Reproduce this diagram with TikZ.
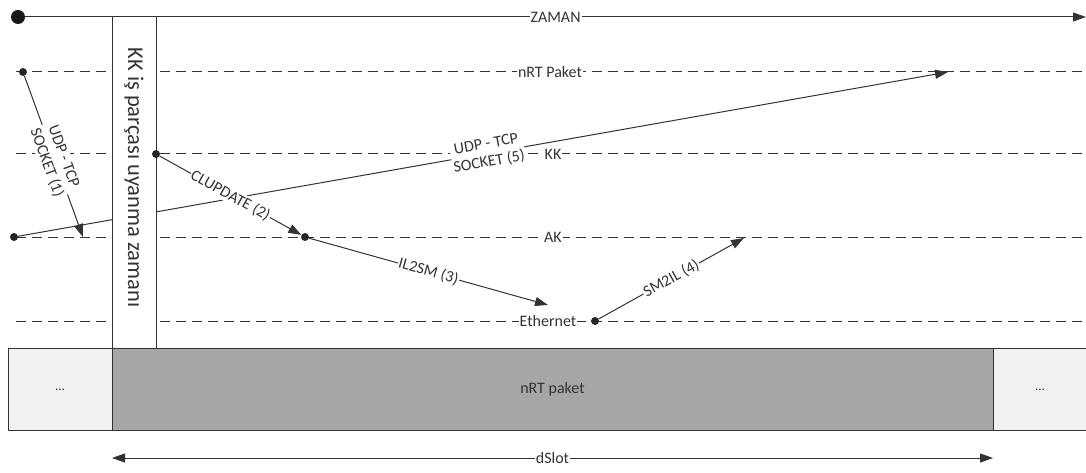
\documentclass[tikz,border=0pt]{standalone}
\usepackage{fontspec}
\setmainfont{Carlito}
\usetikzlibrary{arrows.meta}
\definecolor{ln}{HTML}{333333}
\definecolor{lightbox}{HTML}{F1F1F1}
\definecolor{darkbox}{HTML}{A6A6A6}
\tikzset{
  dline/.style={draw=ln, line width=1pt, dash pattern=on 10pt off 6pt},
  lab/.style={fill=white, inner sep=1pt, text=ln, font=\fontsize{16}{18}\selectfont},
  slab/.style={fill=white, inner sep=1pt, text=ln, font=\fontsize{16}{18}\selectfont, sloped, align=center},
  dot/.style={circle, fill=black!85, inner sep=0pt, minimum size=8pt},
  bigdot/.style={circle, fill=black!90, inner sep=0pt, minimum size=14pt},
  arr/.style={draw=ln, line width=1pt, -{Triangle[length=13pt,width=9pt]}},
  tl/.style={draw=ln, line width=1pt}
}
\begin{document}
\begin{tikzpicture}[x=1pt,y=-1pt]
\useasboundingbox (0,0) rectangle (1086,473);
% time axis
\node[bigdot] (z0) at (18,17) {};
\coordinate (z1) at (1086,17);
\draw[arr] (z0) -- (z1) node[lab, pos=0.5] {ZAMAN};
% dashed lanes
\coordinate (n0) at (16,72);  \coordinate (n1) at (1086,72);
\coordinate (k0) at (16,154); \coordinate (k1) at (1086,154);
\coordinate (a0) at (16,237); \coordinate (a1) at (1086,237);
\coordinate (e0) at (16,321); \coordinate (e1) at (1086,321);
\draw[dline] (n0) -- (n1);
\draw[dline] (k0) -- (k1);
\draw[dline] (a0) -- (a1);
\draw[dline] (e0) -- (e1);
\node[lab] (lnrt) at (550,72) {nRT Paket};
\node[lab] (lkk) at (553,154) {KK};
\node[lab] (lak) at (553,237) {AK};
\node[lab] (leth) at (548,321) {Ethernet};
% dots
\node[dot] (p1) at (23,72) {};
\node[dot] (p5) at (14,237) {};
% arrow (5) - drawn before box
\coordinate (t5) at (948,72);
\draw[arr] (p5) -- (t5) node[slab, pos=0.505] {UDP - TCP\\SOCKET (5)};
% vertical box
\node[draw=ln, line width=1pt, fill=white, minimum width=44pt, minimum height=332pt, inner sep=0pt] (vbox) at (134,183) {};
\node[rotate=-90, text=ln, font=\fontsize{22.5}{24}\selectfont, anchor=west] (vtxt) at (134,44) {KK iş parçası uyanma zamanı};
% arrow (1)
\coordinate (t1) at (83,237);
\draw[arr] (p1) -- (t1) node[slab, pos=0.52] {UDP - TCP\\SOCKET (1)};
% other dots
\node[dot] (p2) at (156,154) {};
\node[dot] (p3) at (305,237) {};
\node[dot] (p4) at (595,321) {};
\coordinate (t3) at (548,305);
\coordinate (t4) at (744,238);
\draw[arr] (p2) -- (p3) node[slab, pos=0.5] {CLUPDATE (2)};
\draw[arr] (p3) -- (t3) node[slab, pos=0.5] {IL2SM (3)};
\draw[arr] (p4) -- (t4) node[slab, pos=0.5] {SM2IL (4)};
% bottom bar
\node[draw=ln, line width=1pt, fill=lightbox, minimum width=104pt, minimum height=82pt, inner sep=0pt, font=\fontsize{13}{14}\selectfont, text=ln] (bl) at (60,389.5) {...};
\node[draw=ln, line width=1pt, fill=darkbox, minimum width=881pt, minimum height=82pt, inner sep=0pt, font=\fontsize{16}{18}\selectfont, text=ln] (bm) at (552.5,389.5) {nRT paket};
\node[draw=ln, line width=1pt, fill=lightbox, minimum width=94pt, minimum height=82pt, inner sep=0pt, font=\fontsize{13}{14}\selectfont, text=ln] (br) at (1040,389.5) {...};
% dSlot
\coordinate (s0) at (112,458);
\coordinate (s1) at (993,458);
\draw[draw=ln, line width=1pt, {Triangle[length=13pt,width=9pt]}-{Triangle[length=13pt,width=9pt]}] (s0) -- (s1) node[lab, pos=0.5] {dSlot};
\end{tikzpicture}
\end{document}
